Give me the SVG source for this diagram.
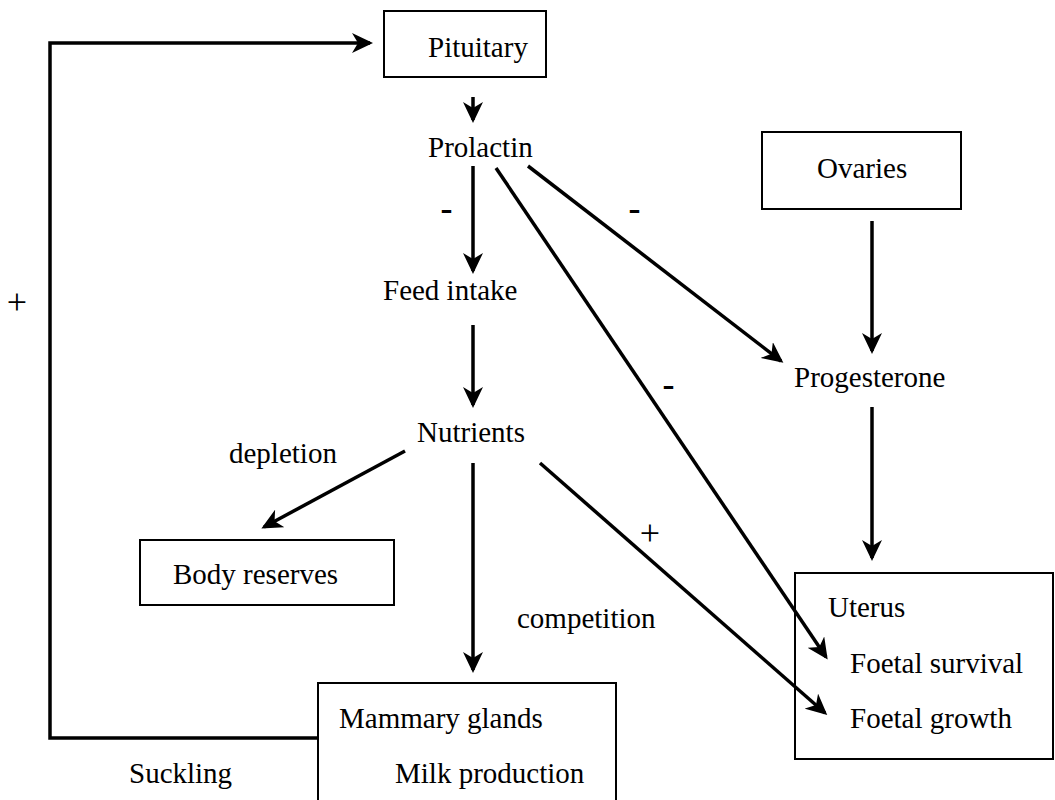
<svg xmlns="http://www.w3.org/2000/svg" width="1055" height="800" viewBox="0 0 1055 800">
<style>
.box{fill:none;stroke:#000;stroke-width:2}
.c{fill:none;stroke:#000;stroke-width:3.5}
</style>
<defs>
<marker id="ah" viewBox="0 0 21 20" refX="18" refY="10" markerWidth="21" markerHeight="20" markerUnits="userSpaceOnUse" orient="auto">
<path d="M21,10 L0,0 L6,10 L0,20 Z" fill="#000"/>
</marker>
</defs>
<rect width="1055" height="800" fill="#fff"/>
<g font-family="'Liberation Serif', 'Times New Roman', serif" font-size="29" fill="#000">
<g id="pituitary"><rect class="box" x="384" y="11" width="162" height="66"/><text x="428" y="57">Pituitary</text></g>
<g id="prolactin"><text x="428" y="157">Prolactin</text></g>
<g id="ovaries"><rect class="box" x="762" y="132" width="199" height="77"/><text x="817" y="178">Ovaries</text></g>
<g id="feed"><text x="383" y="300">Feed intake</text></g>
<g id="progesterone"><text x="794" y="387">Progesterone</text></g>
<g id="nutrients"><text x="417" y="442">Nutrients</text></g>
<g id="body"><rect class="box" x="140" y="540" width="254" height="65"/><text x="173" y="584">Body reserves</text></g>
<g id="mammary"><rect class="box" x="318" y="683" width="298" height="125"/><text x="339" y="728">Mammary glands</text><text x="395" y="783">Milk production</text></g>
<g id="uterus"><rect class="box" x="795" y="573" width="258" height="186"/><text x="828" y="617">Uterus</text><text x="850" y="673">Foetal survival</text><text x="850" y="728">Foetal growth</text></g>
<g id="labels">
<text x="229" y="463">depletion</text>
<text x="517" y="628">competition</text>
<text x="129" y="783">Suckling</text>
<g font-size="36" font-weight="bold" text-anchor="middle">
<text x="446.5" y="220">-</text>
<text x="634.5" y="220">-</text>
<text x="668.5" y="396">-</text>
</g>
<g font-size="36" text-anchor="middle">
<text x="650" y="545">+</text>
<text x="17" y="314">+</text>
</g>
</g>
</g>
<g id="connectors">
<path class="c" d="M318,738 L50,738 L50,43 L370,43" marker-end="url(#ah)" stroke-width="4"/>
<line class="c" x1="473" y1="97" x2="473" y2="120" marker-end="url(#ah)"/>
<line class="c" x1="473" y1="166" x2="473" y2="271" marker-end="url(#ah)"/>
<line class="c" x1="473" y1="325" x2="473" y2="405" marker-end="url(#ah)"/>
<line class="c" x1="473" y1="463" x2="473" y2="670" marker-end="url(#ah)"/>
<line class="c" x1="528" y1="166" x2="781" y2="361" marker-end="url(#ah)"/>
<line class="c" x1="496" y1="168" x2="826" y2="657" marker-end="url(#ah)"/>
<line class="c" x1="872" y1="221" x2="872" y2="351" marker-end="url(#ah)"/>
<line class="c" x1="872" y1="407" x2="872" y2="558" marker-end="url(#ah)"/>
<line class="c" x1="405" y1="451" x2="264" y2="527" marker-end="url(#ah)"/>
<line class="c" x1="540" y1="463" x2="825" y2="713" marker-end="url(#ah)"/>
</g>
</svg>
